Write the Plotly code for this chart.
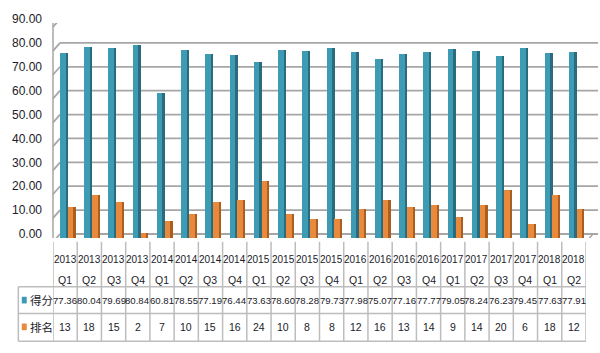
import plotly.graph_objects as go

years = ["2013","2013","2013","2013","2014","2014","2014","2014","2015","2015","2015","2015",
         "2016","2016","2016","2016","2017","2017","2017","2017","2018","2018"]
quarters = ["Q1","Q2","Q3","Q4","Q1","Q2","Q3","Q4","Q1","Q2","Q3","Q4",
            "Q1","Q2","Q3","Q4","Q1","Q2","Q3","Q4","Q1","Q2"]
score = [77.36, 80.04, 79.69, 80.84, 60.81, 78.55, 77.19, 76.44, 73.63, 78.60, 78.28,
         79.73, 77.98, 75.07, 77.16, 77.77, 79.05, 78.24, 76.23, 79.45, 77.63, 77.91]
rank = [13, 18, 15, 2, 7, 10, 15, 16, 24, 10, 8, 8, 12, 16, 13, 14, 9, 14, 20, 6, 18, 12]
series_names = ["得分", "排名"]
yticks = [0, 10, 20, 30, 40, 50, 60, 70, 80, 90]

n = len(score)
xs = list(range(n))

W, H = 600, 353
L, R, T, B = 48, 14, 13, 115
PW = W - L - R
PH = H - T - B

BLUE, BLUE_D = "#3E9BB4", "#2A6B7D"
ORANGE, ORANGE_D = "#E8893B", "#A95F22"
GRID = "#A6A6A6"
TBL = "#BDBDBD"
TXT = "#1B1B2A"
NUMFONT = "Liberation Sans, Arial, sans-serif"
CJK = "Noto Sans CJK SC, sans-serif"

fig = go.Figure()
# blue: front + dark side
fig.add_bar(x=xs, y=score, width=0.25, offset=-0.21, marker=dict(color=BLUE, line=dict(width=0)),
            name=series_names[0], showlegend=False)
fig.add_bar(x=xs, y=score, width=0.08, offset=0.04, marker=dict(color=BLUE_D, line=dict(width=0)),
            showlegend=False)
fig.add_bar(x=xs, y=rank, width=0.25, offset=0.115, marker=dict(color=ORANGE, line=dict(width=0)),
            name=series_names[1], showlegend=False)
fig.add_bar(x=xs, y=rank, width=0.07, offset=0.365, marker=dict(color=ORANGE_D, line=dict(width=0)),
            showlegend=False)

shapes = []
# 3D gridlines on back wall with slanted left segment
for v in yticks:
    shapes.append(dict(type="line", xref="paper", xsizemode="pixel", xanchor=0, x0=0, x1=7,
                       yref="y", ysizemode="pixel", yanchor=v, y0=-4, y1=4,
                       line=dict(color=GRID, width=1.8), layer="below"))
    shapes.append(dict(type="line", xref="paper", xsizemode="pixel", xanchor=0, x0=7, x1=PW + 7,
                       yref="y", ysizemode="pixel", yanchor=v, y0=4, y1=4,
                       line=dict(color=GRID, width=1.8), layer="below"))
# floor front edge and right edge
shapes.append(dict(type="line", xref="paper", x0=0, x1=1, yref="y", ysizemode="pixel",
                   yanchor=0, y0=-4, y1=-4, line=dict(color=GRID, width=1.5), layer="below"))
shapes.append(dict(type="line", xref="paper", xsizemode="pixel", xanchor=1, x0=0, x1=7,
                   yref="y", ysizemode="pixel", yanchor=0, y0=-4, y1=4,
                   line=dict(color=GRID, width=1.5), layer="below"))
# left wall front edge
shapes.append(dict(type="line", xref="paper", x0=0, x1=0, yref="y", ysizemode="pixel",
                   yanchor=0, y0=-4, y1=PH - 4, line=dict(color=GRID, width=1.5), layer="below"))


def py2paper(py):
    return (T + PH - py) / PH


def px2paper(px):
    return (px - L) / PW


# table vertical lines
for i in range(n + 1):
    shapes.append(dict(type="line", xref="x", x0=i - 0.5, x1=i - 0.5, yref="paper",
                       y0=py2paper(242), y1=py2paper(346), line=dict(color=TBL, width=1.5)))
for py in (289, 317, 346):
    shapes.append(dict(type="line", xref="paper", x0=px2paper(13), x1=1, yref="paper",
                       y0=py2paper(py), y1=py2paper(py), line=dict(color=TBL, width=1.5)))
shapes.append(dict(type="line", xref="paper", x0=px2paper(13), x1=px2paper(13), yref="paper",
                   y0=py2paper(289), y1=py2paper(346), line=dict(color=TBL, width=1.5)))
# legend keys
for col, cy in ((BLUE, 303), (ORANGE, 331)):
    shapes.append(dict(type="rect", xref="paper", x0=px2paper(16.5), x1=px2paper(21.5),
                       yref="paper", y0=py2paper(cy + 3.5), y1=py2paper(cy - 3.5),
                       fillcolor=col, line=dict(width=0)))

annotations = []
for i in range(n):
    for txt, py, sz in ((years[i], 261, 10), (quarters[i], 282, 10.5),
                        (f"{score[i]:.2f}", 303, 9.6), (str(rank[i]), 331, 10.5)):
        annotations.append(dict(x=i, xref="x", y=py2paper(py), yref="paper", text=txt,
                                showarrow=False, xanchor="center", yanchor="middle",
                                font=dict(family=NUMFONT, size=sz, color=TXT)))
for name, py in ((series_names[0], 303), (series_names[1], 331)):
    annotations.append(dict(x=px2paper(23), xref="paper", y=py2paper(py), yref="paper", text=name,
                            showarrow=False, xanchor="left", yanchor="middle",
                            font=dict(family=CJK, size=11.5, color=TXT)))

fig.update_layout(
    width=W, height=H,
    margin=dict(l=L, r=R, t=T, b=B, pad=0),
    paper_bgcolor="white", plot_bgcolor="white",
    barmode="overlay", bargap=0,
    shapes=shapes, annotations=annotations,
    xaxis=dict(range=[-0.5, n - 0.5], showticklabels=False, showgrid=False, zeroline=False,
               showline=False, ticks=""),
    yaxis=dict(range=[0, 90], tickvals=yticks, ticktext=[f"{v:.2f}" for v in yticks],
               showgrid=False, zeroline=False, showline=False, ticks="",
               ticklabelshift=-4, ticklabelstandoff=10,
               tickfont=dict(family=NUMFONT, size=12, color=TXT)),
)

fig.write_html("out.html")
